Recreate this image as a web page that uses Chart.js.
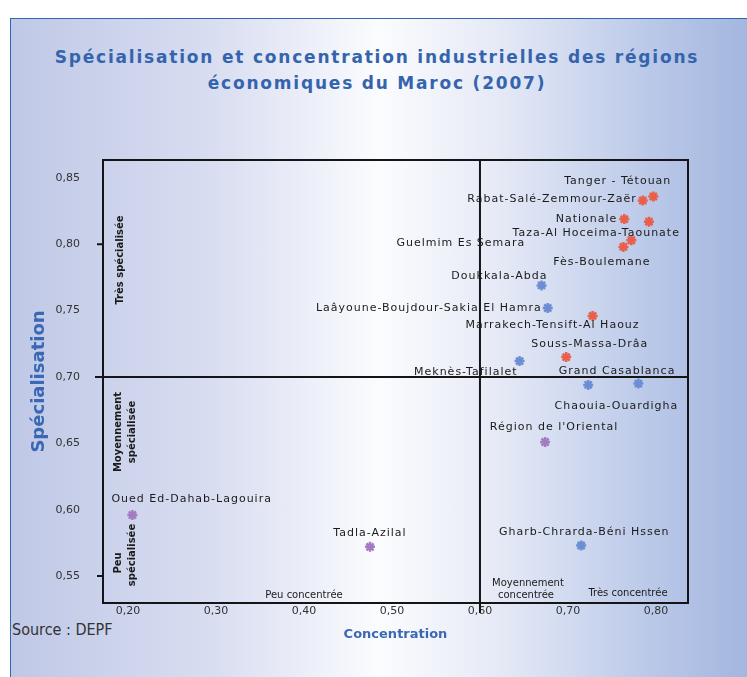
<!DOCTYPE html>
<html lang="fr">

<head>
    <meta charset="UTF-8">
    <title>Spécialisation et concentration industrielles des régions économiques du Maroc (2007)</title>
    <script src="https://cdn.jsdelivr.net/npm/chart.js"></script>
    <style>
        body { margin: 0; background: #fff; }
        #page { position: relative; width: 747px; height: 677px; overflow: hidden; }
        #panel {
            position: absolute; left: 10px; top: 18px; right: 0; bottom: 0;
            border-top: 1px solid #2f68b0; border-left: 1px solid #2f68b0;
            background: linear-gradient(to right, #bfc8e6 0%, #d9def1 28%, #fbfcfe 50%, #e6eaf6 66%, #bccae9 86%, #a4b6df 100%);
        }
        #title {
            position: absolute; left: 0; top: 44px; width: 754px; text-align: center;
            font-family: 'DejaVu Sans', sans-serif; font-weight: bold; font-size: 17px; line-height: 26px;
            letter-spacing: 1.8px; color: #3464ad;
        }
        #source {
            position: absolute; left: 12px; top: 620px;
            font-family: 'Liberation Sans Narrow', 'DejaVu Sans Condensed', sans-serif; font-size: 16px; color: #333;
        }
        canvas { position: absolute; left: 0; top: 0; }
    </style>
</head>

<body>
    <div id="page">
        <div id="panel"></div>
        <div id="title">Spécialisation et concentration industrielles des régions<br>économiques du Maroc (2007)</div>
        <div id="source">Source : DEPF</div>
        <canvas id="chart" width="747" height="677"></canvas>
    </div>

    <script>
        // régions "spécialisées et concentrées" (rouge)
        const redRegions = ['Tanger - Tétouan', 'Rabat-Salé-Zemmour-Zaër', 'Nationale', 'Taza-Al Hoceima-Taounate',
            'Guelmim Es Semara', 'Fès-Boulemane', 'Marrakech-Tensift-Al Haouz', 'Souss-Massa-Drâa'];
        const redConcentration = [0.797, 0.785, 0.764, 0.792, 0.772, 0.763, 0.728, 0.698];
        const redSpecialisation = [0.836, 0.833, 0.819, 0.817, 0.803, 0.798, 0.746, 0.715];

        // bleu
        const blueRegions = ['Doukkala-Abda', 'Laâyoune-Boujdour-Sakia El Hamra', 'Meknès-Tafilalet',
            'Grand Casablanca', 'Chaouia-Ouardigha', 'Gharb-Chrarda-Béni Hssen'];
        const blueConcentration = [0.670, 0.677, 0.645, 0.780, 0.723, 0.715];
        const blueSpecialisation = [0.769, 0.752, 0.712, 0.695, 0.694, 0.573];

        // violet
        const purpleRegions = ["Région de l'Oriental", 'Oued Ed-Dahab-Lagouira', 'Tadla-Azilal'];
        const purpleConcentration = [0.674, 0.205, 0.475];
        const purpleSpecialisation = [0.651, 0.596, 0.572];

        const xTicks = [0.20, 0.30, 0.40, 0.50, 0.60, 0.70, 0.80];
        const yTicks = [0.55, 0.60, 0.65, 0.70, 0.75, 0.80, 0.85];
        const concentrationThreshold = 0.60;
        const specialisationThreshold = 0.70;

        // position des étiquettes : [dx, dy, alignement] par rapport au point
        const labelPlacement = {
            'Tanger - Tétouan': [18, -15, 'right'],
            'Rabat-Salé-Zemmour-Zaër': [-6, -1, 'right'],
            'Nationale': [-7, 0, 'right'],
            'Taza-Al Hoceima-Taounate': [31, 11, 'right'],
            'Guelmim Es Semara': [-106, 3, 'right'],
            'Fès-Boulemane': [27, 15, 'right'],
            'Doukkala-Abda': [6, -9, 'right'],
            'Laâyoune-Boujdour-Sakia El Hamra': [-6, 0, 'right'],
            'Marrakech-Tensift-Al Haouz': [47, 9, 'right'],
            'Souss-Massa-Drâa': [82, -13, 'right'],
            'Meknès-Tafilalet': [-2, 11, 'right'],
            'Grand Casablanca': [37, -12, 'right'],
            'Chaouia-Ouardigha': [90, 21, 'right'],
            "Région de l'Oriental": [9, -15, 'center'],
            'Oued Ed-Dahab-Lagouira': [-21, -16, 'left'],
            'Tadla-Azilal': [0, -14, 'center'],
            'Gharb-Chrarda-Béni Hssen': [3, -13, 'center']
        };

        function toPoints(xs, ys) {
            return xs.map((x, i) => ({ x: x, y: ys[i] }));
        }

        function fmt(v) {
            return v.toFixed(2).replace('.', ',');
        }

        // cadre, axes de séparation et libellés des quadrants
        const quadrantPlugin = {
            id: 'quadrants',
            beforeDatasetsDraw(chart) {
                const { ctx, chartArea: a, scales: { x, y } } = chart;
                const cx = x.getPixelForValue(concentrationThreshold);
                const cy = y.getPixelForValue(specialisationThreshold);
                ctx.save();
                ctx.strokeStyle = '#151515';
                ctx.lineWidth = 2;
                ctx.strokeRect(a.left, a.top, a.right - a.left, a.bottom - a.top);
                ctx.beginPath();
                ctx.moveTo(cx, a.top);
                ctx.lineTo(cx, a.bottom + 10);
                ctx.moveTo(a.left - 8, cy);
                ctx.lineTo(a.right, cy);
                [0.80, 0.55].forEach(v => {
                    const py = y.getPixelForValue(v);
                    ctx.moveTo(a.left - 6, py);
                    ctx.lineTo(a.left, py);
                });
                ctx.stroke();

                ctx.fillStyle = '#1a1a1a';
                ctx.font = 'bold 10px "DejaVu Sans"';
                ctx.textBaseline = 'middle';
                ctx.textAlign = 'center';
                const vertical = (text, px, py) => {
                    ctx.save();
                    ctx.translate(px, py);
                    ctx.rotate(-Math.PI / 2);
                    ctx.fillText(text, 0, 0);
                    ctx.restore();
                };
                vertical('Très spécialisée', a.left + 17, a.top + 100);
                vertical('Moyennement', a.left + 15, cy + 55);
                vertical('spécialisée', a.left + 29, cy + 55);
                vertical('Peu', a.left + 15, a.bottom - 40);
                vertical('spécialisée', a.left + 29, a.bottom - 48);
                ctx.font = '10px "DejaVu Sans"';
                ctx.fillText('Peu concentrée', x.getPixelForValue(0.40), a.bottom - 8);
                ctx.fillText('Moyennement', cx + 48, a.bottom - 20);
                ctx.fillText('concentrée', cx + 46, a.bottom - 8);
                ctx.fillText('Très concentrée', cx + 148, a.bottom - 10);
                ctx.restore();
            }
        };

        // étiquettes des régions
        const labelPlugin = {
            id: 'regionLabels',
            afterDatasetsDraw(chart) {
                const { ctx } = chart;
                ctx.save();
                ctx.fillStyle = '#1a1a1a';
                ctx.font = '11px "DejaVu Sans"';
                ctx.letterSpacing = '1px';
                ctx.textBaseline = 'middle';
                chart.data.datasets.forEach((ds, di) => {
                    chart.getDatasetMeta(di).data.forEach((pt, i) => {
                        const name = ds.names[i];
                        const p = labelPlacement[name] || [0, -12, 'center'];
                        ctx.textAlign = p[2];
                        ctx.fillText(name, pt.x + p[0], pt.y + p[1]);
                    });
                });
                ctx.restore();
            }
        };

        const pointStyle = { pointStyle: 'star', pointRadius: 5, pointBorderWidth: 2.5 };

        const chart = new Chart(document.getElementById('chart').getContext('2d'), {
            type: 'scatter',
            data: {
                datasets: [
                    Object.assign({ label: 'rouge', names: redRegions, data: toPoints(redConcentration, redSpecialisation),
                        backgroundColor: '#e8604c', borderColor: '#e8604c' }, pointStyle),
                    Object.assign({ label: 'bleu', names: blueRegions, data: toPoints(blueConcentration, blueSpecialisation),
                        backgroundColor: '#6a8dd3', borderColor: '#6a8dd3' }, pointStyle),
                    Object.assign({ label: 'violet', names: purpleRegions, data: toPoints(purpleConcentration, purpleSpecialisation),
                        backgroundColor: '#a57ac4', borderColor: '#a57ac4' }, pointStyle)
                ]
            },
            options: {
                responsive: false,
                animation: false,
                layout: { padding: { left: 0, top: 160, right: 59, bottom: 0 } },
                plugins: { legend: { display: false }, tooltip: { enabled: false } },
                scales: {
                    x: {
                        type: 'linear',
                        min: 0.1716,
                        max: 0.8364,
                        afterBuildTicks: s => { s.ticks = xTicks.map(v => ({ value: v })); },
                        afterFit: s => { s.height = 74; },
                        grid: { display: false, drawTicks: false },
                        border: { display: false },
                        ticks: {
                            padding: 2, autoSkip: false, maxRotation: 0, color: '#333',
                            font: { family: 'DejaVu Sans', size: 11 },
                            callback: v => fmt(v)
                        },
                        title: {
                            display: true, text: 'Concentration', color: '#3a68b4',
                            font: { family: 'DejaVu Sans', size: 13, weight: 'bold' },
                            padding: { top: 0, bottom: 35 }
                        }
                    },
                    y: {
                        type: 'linear',
                        min: 0.5297,
                        max: 0.8635,
                        afterBuildTicks: s => { s.ticks = yTicks.map(v => ({ value: v })); },
                        afterFit: s => { s.width = 103; },
                        grid: { display: false, drawTicks: false },
                        border: { display: false },
                        ticks: {
                            padding: 23, autoSkip: false, color: '#333',
                            font: { family: 'DejaVu Sans', size: 11 },
                            callback: v => fmt(v)
                        },
                        title: {
                            display: true, text: 'Spécialisation', color: '#3a68b4',
                            font: { family: 'DejaVu Sans', size: 18, weight: 'bold' },
                            padding: { top: 29, bottom: 0 }
                        }
                    }
                }
            },
            plugins: [quadrantPlugin, labelPlugin]
        });
    </script>
</body>

</html>
